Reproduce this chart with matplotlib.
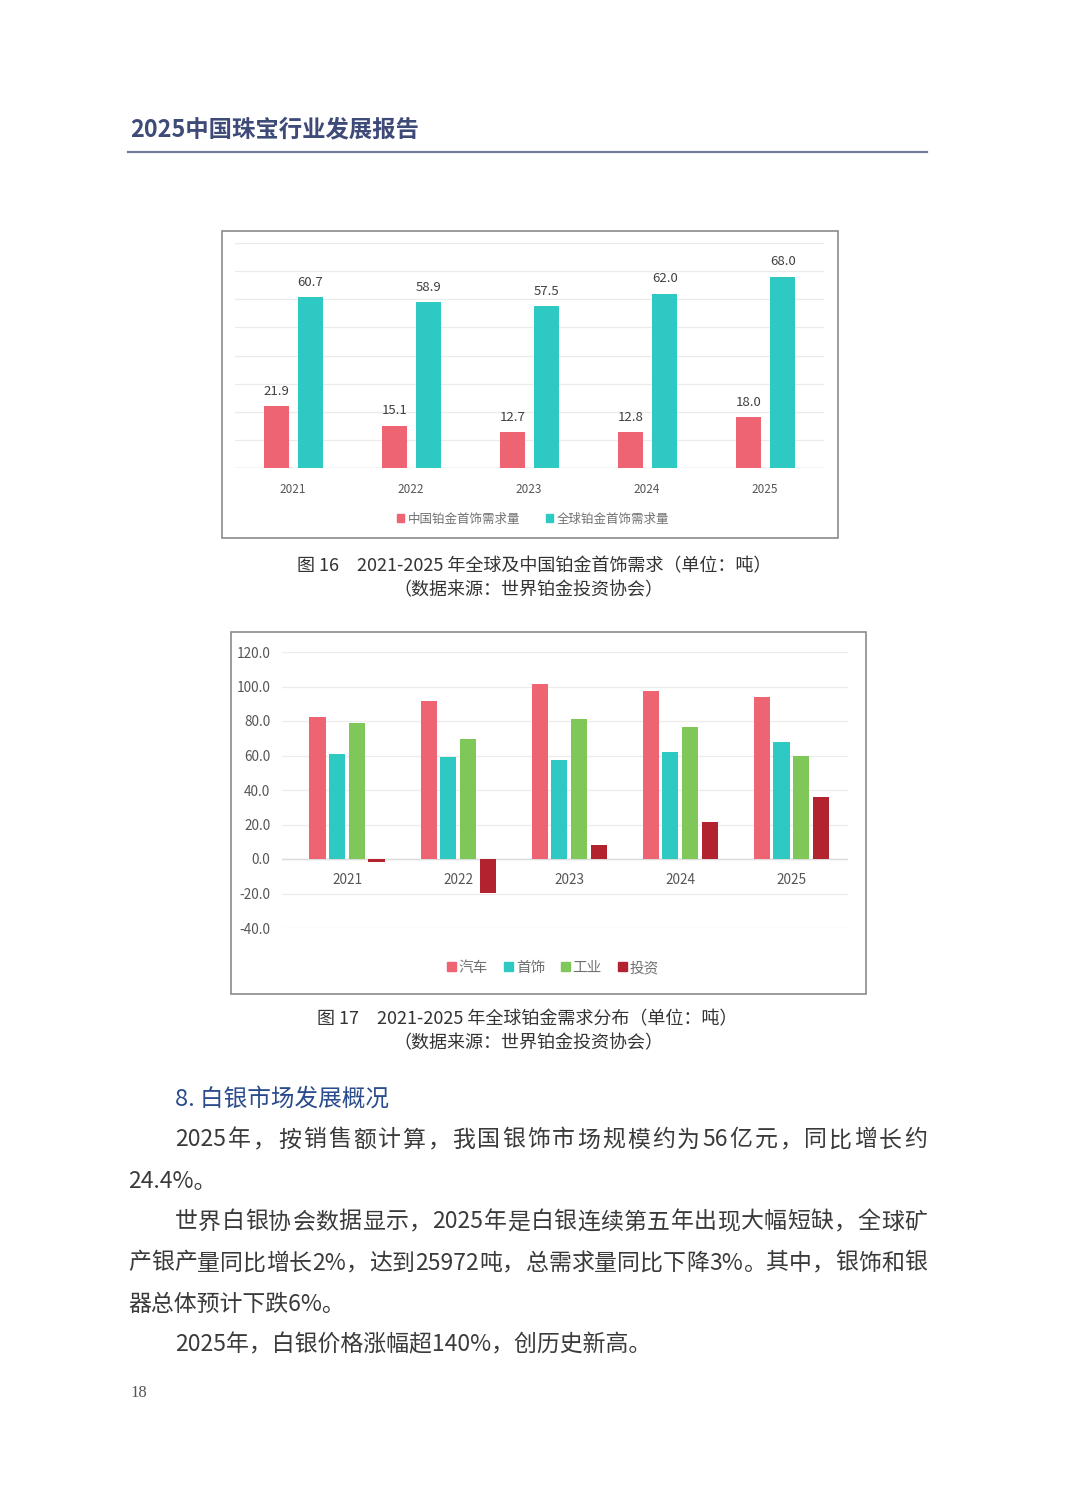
import matplotlib
matplotlib.use("Agg")
import matplotlib.pyplot as plt
from matplotlib.patches import Patch, Rectangle
import numpy as np

plt.rcParams['font.family'] = ['Noto Sans CJK SC', 'DejaVu Sans']

# ---- data ----
years = ["2021", "2022", "2023", "2024", "2025"]
china_jewelry = [21.9, 15.1, 12.7, 12.8, 18.0]
global_jewelry = [60.7, 58.9, 57.5, 62.0, 68.0]
fig1_series = ["中国铂金首饰需求量", "全球铂金首饰需求量"]

auto_demand = [82.5, 91.8, 101.7, 97.3, 94.1]
jewelry_demand = [60.7, 58.9, 57.5, 62.0, 68.0]
industry_demand = [78.6, 69.7, 81.4, 76.6, 59.8]
invest_demand = [-1.5, -19.9, 8.4, 21.6, 35.8]
fig2_series = ["汽车", "首饰", "工业", "投资"]
fig2_ticks = [-40, -20, 0, 20, 40, 60, 80, 100, 120]

header = "2025中国珠宝行业发展报告"
cap16 = ["图 16　2021-2025 年全球及中国铂金首饰需求（单位：吨）", "（数据来源：世界铂金投资协会）"]
cap17 = ["图 17　2021-2025 年全球铂金需求分布（单位：吨）", "（数据来源：世界铂金投资协会）"]
section = "8. 白银市场发展概况"
body = [
    ("2025年，按销售额计算，我国银饰市场规模约为56亿元，同比增长约", 175, True),
    ("24.4%。", 128, False),
    ("世界白银协会数据显示，2025年是白银连续第五年出现大幅短缺，全球矿", 175, True),
    ("产银产量同比增长2%，达到25972吨，总需求量同比下降3%。其中，银饰和银", 128, True),
    ("器总体预计下跌6%。", 128, False),
    ("2025年，白银价格涨幅超140%，创历史新高。", 175, False),
]
page_no = "18"

RED = "#ee6473"
TEAL = "#2fc9c3"
GREEN = "#80c75a"
DARK = "#b3222f"

W, H = 1080, 1501
fig = plt.figure(figsize=(W / 100, H / 100), dpi=100)
fig.patch.set_facecolor("white")

page = fig.add_axes([0, 0, 1, 1])
page.set_xlim(0, W)
page.set_ylim(H, 0)
page.axis("off")


def frac(x0, y0, x1, y1):
    return [x0 / W, 1 - y1 / H, (x1 - x0) / W, (y1 - y0) / H]


# header
page.text(130, 129, header, fontsize=16.8, fontweight="bold", color="#3e4a78",
          ha="left", va="center")
page.plot([128, 927], [152, 152], color="#737b9a", lw=1.6)

# ---- figure 16 ----
page.add_patch(Rectangle((222, 231), 616, 307, fill=False, ec="#8a8a8a", lw=1.2))
ax1 = fig.add_axes(frac(235, 243, 824, 468))
x = np.arange(len(years))
w = 0.21
b1 = ax1.bar(x - 0.14, china_jewelry, w, color=RED, zorder=3)
b2 = ax1.bar(x + 0.15, global_jewelry, w, color=TEAL, zorder=3)
for bars in (b1, b2):
    for r in bars:
        ax1.annotate(f"{r.get_height():.1f}", (r.get_x() + r.get_width() / 2, r.get_height()),
                     xytext=(0, 6), textcoords="offset points", ha="center", va="bottom",
                     fontsize=9.5, color="#404040")
ax1.set_xlim(-0.49, 4.5)
ax1.set_ylim(0, 80)
ax1.set_yticks(np.arange(0, 81, 10))
ax1.yaxis.grid(True, color="#ebebeb", lw=0.9, zorder=0)
ax1.axhline(0, color="#d8d8d8", lw=1, zorder=2)
ax1.set_yticklabels([])
ax1.tick_params(left=False, bottom=False, labelsize=8.5, labelcolor="#555555", pad=7)
ax1.set_xticks(x)
ax1.set_xticklabels(years)
for s in ax1.spines.values():
    s.set_visible(False)
fig.legend(handles=[Patch(color=RED, label=fig1_series[0]), Patch(color=TEAL, label=fig1_series[1])],
           loc="center", bbox_to_anchor=(533 / W, 1 - 519 / H), ncol=2, frameon=False,
           fontsize=9, labelcolor="#707070", handlelength=0.6, handleheight=0.6,
           handletextpad=0.3, columnspacing=2.0)

page.text(534, 566, cap16[0], fontsize=13, color="#333333", ha="center", va="center")
page.text(528, 590, cap16[1], fontsize=13, color="#333333", ha="center", va="center")

# ---- figure 17 ----
page.add_patch(Rectangle((231, 632), 635, 362, fill=False, ec="#8a8a8a", lw=1.2))
ax2 = fig.add_axes(frac(282, 652, 848, 928))
w2 = 0.145
step = 0.177
series2 = [auto_demand, jewelry_demand, industry_demand, invest_demand]
colors2 = [RED, TEAL, GREEN, DARK]
for i, (vals, c) in enumerate(zip(series2, colors2)):
    ax2.bar(x + (i - 1.5) * step, vals, w2, color=c, zorder=3)
ax2.set_xlim(-0.585, 4.51)
ax2.set_ylim(-40, 120)
ax2.set_yticks(fig2_ticks)
ax2.set_yticklabels([f"{v:.1f}" for v in fig2_ticks])
ax2.yaxis.grid(True, color="#ececec", lw=0.9, zorder=0)
ax2.axhline(0, color="#dcdcdc", lw=1, zorder=2)
ax2.tick_params(left=False, bottom=False, labelsize=9.8, labelcolor="#555555", pad=5)
ax2.set_xticks([])
for xi, yr in zip(x, years):
    ax2.annotate(yr, (xi, 0), xytext=(0, -15), textcoords="offset points",
                 ha="center", va="center", fontsize=9.8, color="#555555")
for s in ax2.spines.values():
    s.set_visible(False)
fig.legend(handles=[Patch(color=c, label=l) for c, l in zip(colors2, fig2_series)],
           loc="center", bbox_to_anchor=(553 / W, 1 - 968 / H), ncol=4, frameon=False,
           fontsize=10.5, labelcolor="#707070", handlelength=0.6, handleheight=0.6,
           handletextpad=0.2, columnspacing=1.1)

page.text(527, 1019, cap17[0], fontsize=13, color="#333333", ha="center", va="center")
page.text(528, 1043, cap17[1], fontsize=13, color="#333333", ha="center", va="center")

# ---- text block ----
page.text(175, 1099, section, fontsize=17, color="#2b4c8c", ha="left", va="center")

renderer = fig.canvas.get_renderer()
FS = 16.5


def text_w(s):
    t = page.text(0, 0, s, fontsize=FS)
    wd = t.get_window_extent(renderer).width
    t.remove()
    return wd


base = text_w("中中")


def tokens(s):
    out, cur = [], ""
    for ch in s:
        if ord(ch) < 128:
            cur += ch
        else:
            if cur:
                out.append(cur)
                cur = ""
            out.append(ch)
    if cur:
        out.append(cur)
    return out


y0 = 1140
for k, (line, xs, justify) in enumerate(body):
    y = y0 + k * 41
    if not justify:
        page.text(xs, y, line, fontsize=FS, color="#3a3a3a", ha="left", va="center")
        continue
    toks = tokens(line)
    adv = [text_w("中" + t + "中") - base for t in toks]
    extra = (927 - xs - sum(adv)) / (len(toks) - 1)
    cx = xs
    for t, a in zip(toks, adv):
        page.text(cx, y, t, fontsize=FS, color="#3a3a3a", ha="left", va="center")
        cx += a + extra

page.text(130, 1393, page_no, fontsize=12, color="#555555", family="Liberation Serif",
          ha="left", va="center")

fig.savefig("out.png", dpi=100, facecolor="white")
